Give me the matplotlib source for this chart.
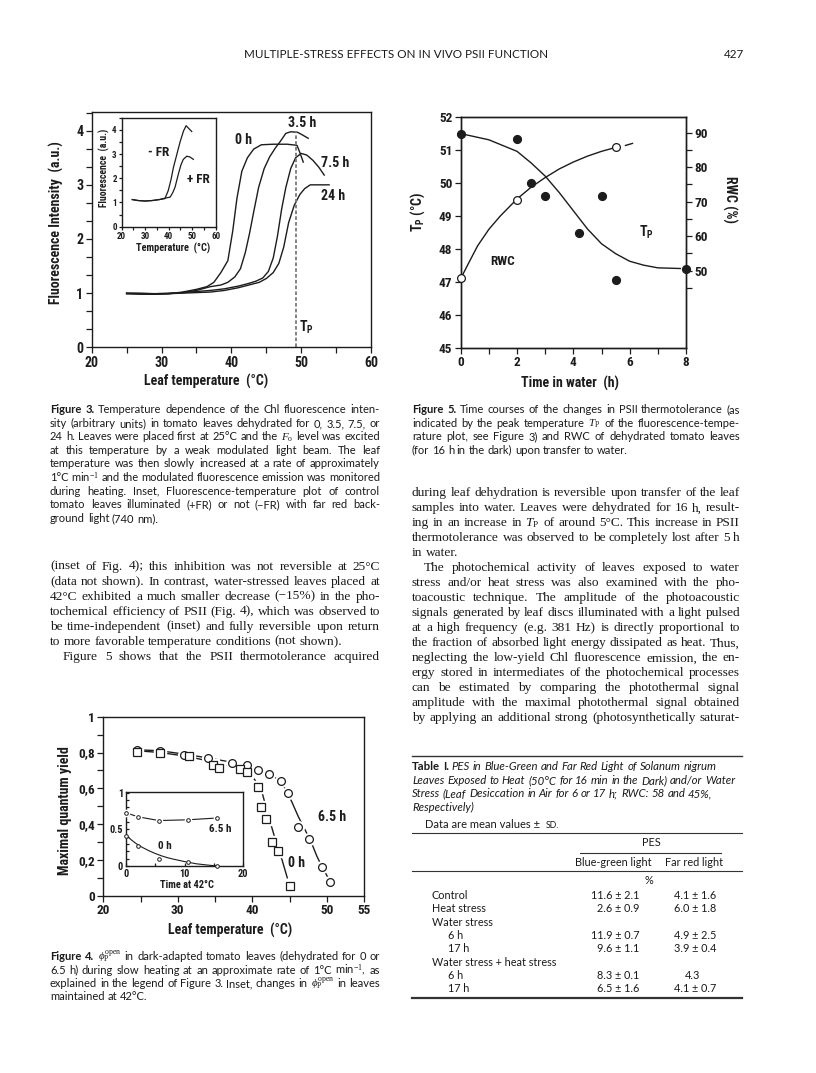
import matplotlib
matplotlib.use('Agg')
import matplotlib.pyplot as plt
from matplotlib import font_manager
from matplotlib.lines import Line2D
from matplotlib.ticker import MultipleLocator, FixedLocator, FuncFormatter

W, H = 816, 1073
INK = '#1c1c1c'
TXT = '#1a1a1a'

# ---------------- Figure 3: fluorescence vs leaf temperature ----------------
h0_x = [25, 27, 29, 31, 33, 35, 36.5, 37.5, 38.5, 39.5, 40.2, 40.8, 41.5, 42.3, 43.2, 44.3, 46, 48, 49.4, 49.8, 50.3]
h0_y = [1.0, 0.99, 0.98, 0.99, 1.02, 1.07, 1.12, 1.2, 1.38, 1.6, 2.15, 2.75, 3.25, 3.5, 3.66, 3.74, 3.75, 3.75, 3.73, 3.6, 3.42]
h35_x = [25, 27, 29, 31, 33, 35, 37, 38.5, 39.5, 40.5, 41.3, 42, 42.6, 43.2, 43.9, 44.7, 45.5, 46.3, 47, 47.8, 48.5, 49.5, 50.2, 51]
h35_y = [0.99, 0.98, 0.98, 0.99, 1.01, 1.05, 1.12, 1.15, 1.2, 1.3, 1.45, 1.75, 2.1, 2.5, 2.95, 3.3, 3.52, 3.68, 3.8, 3.95, 3.98, 3.97, 3.92, 3.86]
h75_x = [25, 27, 29, 31, 33, 35, 37, 39, 41, 42.5, 43.5, 44.5, 45.3, 46, 46.6, 47.2, 47.8, 48.5, 49.2, 50, 50.8, 51.7, 52.5, 53.3]
h75_y = [1.0, 1.0, 0.99, 1.0, 1.01, 1.03, 1.05, 1.08, 1.13, 1.18, 1.22, 1.28, 1.4, 1.65, 2.05, 2.55, 2.95, 3.3, 3.5, 3.58, 3.55, 3.45, 3.33, 3.18]
h24_x = [25, 27, 29, 31, 33, 35, 37, 39, 41, 42.5, 44, 45, 46, 46.8, 47.5, 48.2, 49, 49.8, 50.5, 51.3, 52, 53, 54]
h24_y = [0.99, 0.99, 0.99, 0.99, 1.0, 1.01, 1.02, 1.05, 1.1, 1.15, 1.2, 1.27, 1.38, 1.55, 1.85, 2.3, 2.62, 2.82, 2.93, 3.0, 3.0, 3.0, 3.0]
tp_line = 49.3

# inset: -FR / +FR
mfr_x = [24.5, 27, 30, 33, 36, 38.4, 39.8, 41, 42, 43.5, 44.9, 46.3, 47.4, 48.6, 49.8]
mfr_y = [1.12, 1.08, 1.06, 1.08, 1.12, 1.16, 1.49, 1.95, 2.44, 3.0, 3.52, 3.95, 4.17, 4.05, 3.93]
pfr_x = [24.5, 27, 30, 33, 36, 38.5, 40.6, 41.7, 42.7, 44.1, 45.2, 46.2, 47.7, 49, 50.5]
pfr_y = [1.12, 1.08, 1.06, 1.08, 1.12, 1.18, 1.22, 1.4, 1.63, 2.17, 2.55, 2.78, 2.91, 2.88, 2.78]

# ---------------- Figure 4: maximal quantum yield ----------------
c65_x = [24.5, 27.6, 30.9, 34.1, 37.3, 39.3, 40.8, 42.2, 43.9, 44.8, 46.2, 47.6, 49.4, 50.5]
c65_y = [0.814, 0.81, 0.786, 0.77, 0.744, 0.73, 0.702, 0.682, 0.64, 0.572, 0.382, 0.315, 0.158, 0.078]
s0_x = [24.5, 27.6, 31.5, 34.7, 35.5, 38.3, 39.3, 40.8, 41.2, 41.8, 42.7, 43.4, 45.0]
s0_y = [0.805, 0.797, 0.778, 0.73, 0.714, 0.708, 0.69, 0.607, 0.497, 0.427, 0.298, 0.252, 0.055]
fit65_x = [24.5, 27.6, 31, 34, 37.3, 39.3, 40.8, 42.2, 43.9, 45.3, 46.2, 47.1, 48, 48.7, 49.4, 50.1, 50.5]
fit65_y = [0.815, 0.81, 0.79, 0.77, 0.745, 0.73, 0.705, 0.68, 0.64, 0.525, 0.44, 0.367, 0.29, 0.218, 0.16, 0.106, 0.078]
fit0_x = [24.5, 27.6, 31, 34.5, 37.5, 39.3, 40.3, 41.3, 42, 42.7, 43.4, 44, 44.7]
fit0_y = [0.81, 0.8, 0.78, 0.75, 0.72, 0.69, 0.65, 0.58, 0.47, 0.37, 0.27, 0.2, 0.1]

# inset: time at 42 C
in_t = [0, 2.1, 5.6, 10.5, 15.6]
in65 = [0.725, 0.67, 0.62, 0.63, 0.655]
in0 = [0.41, 0.27, 0.095, 0.06, 0.0]
in0fit_x = [0, 1, 2, 3, 4, 5, 6, 7, 8, 10, 12, 14, 15.6]
in0fit_y = [0.42, 0.35, 0.29, 0.245, 0.205, 0.17, 0.14, 0.115, 0.095, 0.06, 0.03, 0.012, 0.0]

# ---------------- Figure 5: Tp and RWC vs time in water ----------------
t_tp = [0, 2, 2.5, 3, 4.2, 5, 5.5, 8]
tp = [51.48, 51.31, 50.0, 49.6, 48.47, 49.6, 47.04, 47.4]
tpfit_x = [0.2, 1, 2, 2.5, 3, 3.5, 4, 4.5, 5, 5.5, 6, 6.5, 7, 7.8]
tpfit_y = [51.45, 51.3, 50.95, 50.6, 50.2, 49.7, 49.15, 48.6, 48.15, 47.85, 47.62, 47.5, 47.42, 47.4]
t_rwc = [0, 2, 5.5]
rwc = [47.8, 70.5, 85.8]
rwcfit_x = [0.05, 0.3, 0.6, 1.0, 1.4, 2.0, 2.5, 3.0, 3.5, 4.0, 4.5, 5.0, 5.4]
rwcfit_y = [48.5, 52.5, 57.2, 62.0, 65.8, 70.8, 74.2, 77.0, 79.5, 81.5, 83.2, 84.6, 85.5]
rwcdash_x = [5.85, 6.1]
rwcdash_y = [86.3, 86.9]

# ---------------- Table I ----------------
tab_rows = ["Control", "Heat stress", "Water stress", "6 h", "17 h",
            "Water stress + heat stress", "6 h", "17 h"]
tab_indent = [0, 0, 0, 1, 1, 0, 1, 1]
bg_mean = [11.6, 2.6, None, 11.9, 9.6, None, 8.3, 6.5]
bg_sd = [2.1, 0.9, None, 0.7, 1.1, None, 0.1, 1.6]
fr_mean = [4.1, 6.0, None, 4.9, 3.9, None, 4.3, 4.1]
fr_sd = [1.6, 1.8, None, 2.5, 0.4, None, None, 0.7]

# ---------------- fonts ----------------
names = {f.name for f in font_manager.fontManager.ttflist}
NARROW = next((n for n in ['Liberation Sans Narrow', 'Roboto Condensed', 'DejaVu Sans Condensed']
               if n in names), 'Liberation Sans')
NSCALE = 1.0 if NARROW != 'Liberation Sans' else 0.85
CAP = 'Lato' if 'Lato' in names else 'DejaVu Sans'
SERIF = 'Liberation Serif'

plt.rcParams['font.family'] = [NARROW, 'DejaVu Sans']
plt.rcParams['font.weight'] = 'bold'
plt.rcParams['mathtext.fontset'] = 'custom'
plt.rcParams['mathtext.rm'] = SERIF + ':normal'
plt.rcParams['mathtext.it'] = SERIF + ':italic:normal'
plt.rcParams['mathtext.bf'] = NARROW + ':bold'

fig = plt.figure(figsize=(W / 100, H / 100), dpi=100)
fig.patch.set_facecolor('white')
renderer = fig.canvas.get_renderer()


def fx(x):
    return x / W


def fy(y):
    return 1 - y / H


def ax_px(l, t, r, b):
    return fig.add_axes([l / W, 1 - b / H, (r - l) / W, (b - t) / H])


def style(ax, size, direction='out', length=4, pad=2):
    for s in ax.spines.values():
        s.set_linewidth(1.0)
        s.set_color(INK)
    ax.tick_params(which='both', direction=direction, length=length, width=0.9,
                   color=INK, labelsize=size * NSCALE, pad=pad, labelcolor=INK)
    ax.set_facecolor('none')


def ftext(x, y, s, size, **kw):
    kw.setdefault('ha', 'center')
    kw.setdefault('va', 'center')
    return fig.text(fx(x), fy(y), s, fontsize=size * NSCALE, color=INK, **kw)


def write_lines(lines, ys, x0, x1, family, size, style='normal', justify=True,
                ragged=(), indent=None):
    indent = indent or {}
    for i, (line, y) in enumerate(zip(lines, ys)):
        start = x0 + indent.get(i, 0)
        arts = []
        for w in line.split():
            weight, st = 'normal', style
            if w.startswith('#'):
                w, weight, st = w[1:], 'bold', 'normal'
            arts.append(fig.text(0, fy(y + 3), w, family=[family, 'DejaVu Sans'], fontsize=size,
                                 style=st, weight=weight, va='baseline', ha='left', color=TXT))
        space = size * 100 / 72 * 0.25
        widths = [a.get_window_extent(renderer).width for a in arts]
        avail = x1 - start
        natural = sum(widths) + space * (len(arts) - 1)
        if natural > avail:
            k = avail / natural
            for a in arts:
                a.set_fontsize(size * k)
            widths = [a.get_window_extent(renderer).width for a in arts]
            space *= k
        if justify and i not in ragged and len(arts) > 1:
            gap = (avail - sum(widths)) / (len(arts) - 1)
        else:
            gap = space
        x = start
        for a, w in zip(arts, widths):
            a.set_x(fx(x))
            x += w + gap


# ================= Figure 3 =================
ax3 = ax_px(91.7, 112, 371, 347.3)
style(ax3, 10)
for xs, ys in [(h0_x, h0_y), (h35_x, h35_y), (h75_x, h75_y), (h24_x, h24_y)]:
    ax3.plot(xs, ys, color=INK, lw=1.0)
ax3.vlines(tp_line, 0, 4.0, colors='#7a7a7a', linestyles=(0, (2, 1.2)), lw=1.3)
ax3.set_xlim(20, 60)
ax3.set_ylim(0, 4.345)
ax3.xaxis.set_major_locator(MultipleLocator(10))
ax3.xaxis.set_minor_locator(MultipleLocator(5))
ax3.yaxis.set_major_locator(MultipleLocator(1))
ax3.yaxis.set_minor_locator(MultipleLocator(1 / 3))
ax3.tick_params(which='minor', length=4)
for s, x, y in [('0 h', 41.7, 3.82), ('3.5 h', 50.2, 4.15), ('7.5 h', 54.8, 3.41), ('24 h', 54.5, 2.79)]:
    ax3.text(x, y, s, fontsize=10 * NSCALE, ha='center', va='center', color=INK)
ax3.text(50.8, 0.37, r'$\mathbf{T_P}$', fontsize=10 * NSCALE, ha='center', va='center', color=INK)
ftext(206, 381.7, 'Leaf temperature  (°C)', 10)
ftext(56.5, 222.5, 'Fluorescence Intensity  (a.u.)', 10, rotation=90)

ax3i = ax_px(121.7, 117.7, 215.7, 226.7)
style(ax3i, 6.5, length=2.5, pad=1)
ax3i.set_facecolor('white')
ax3i.plot(mfr_x, mfr_y, color=INK, lw=0.9)
ax3i.plot(pfr_x, pfr_y, color=INK, lw=0.9)
ax3i.set_xlim(20, 60)
ax3i.set_ylim(0, 4.5)
ax3i.xaxis.set_major_locator(MultipleLocator(10))
ax3i.xaxis.set_minor_locator(MultipleLocator(5))
ax3i.yaxis.set_major_locator(MultipleLocator(1))
ax3i.yaxis.set_minor_locator(MultipleLocator(0.5))
ax3i.text(35.6, 3.06, '- FR', fontsize=9.5 * NSCALE, ha='center', va='center', color=INK)
ax3i.text(52.6, 1.96, '+ FR', fontsize=9.5 * NSCALE, ha='center', va='center', color=INK)
ftext(173.3, 248.5, 'Temperature  (°C)', 7.5)
ftext(104, 168, 'Fluorescence  (a.u.)', 7, rotation=90)

# ================= Figure 5 =================
ax5 = ax_px(460.7, 116.7, 686, 347.7)
style(ax5, 9.5)
ax5.plot(tpfit_x, tpfit_y, color=INK, lw=1.0)
ax5.plot(t_tp, tp, 'o', ms=5.6, color=INK, clip_on=False, zorder=5)
ax5.set_xlim(0, 8)
ax5.set_ylim(45, 52)
ax5.xaxis.set_major_locator(MultipleLocator(2))
ax5.xaxis.set_minor_locator(MultipleLocator(1))
ax5.yaxis.set_major_locator(MultipleLocator(1))
ax5.tick_params(right=False, top=False)
ax5.text(1.5, 47.6, 'RWC', fontsize=9.5 * NSCALE, ha='center', va='center', color=INK)
ax5.text(6.6, 48.5, r'$\mathbf{T_P}$', fontsize=10 * NSCALE, ha='center', va='center', color=INK)
tw = ax5.twinx()
style(tw, 9.5)
tw.plot(rwcfit_x, rwcfit_y, color=INK, lw=1.0)
tw.plot(rwcdash_x, rwcdash_y, color=INK, lw=1.0)
tw.plot(t_rwc, rwc, 'o', ms=5.6, mfc='white', mec=INK, mew=0.9, clip_on=False, zorder=5)
tw.set_ylim(27.68, 94.64)
tw.yaxis.set_major_locator(FixedLocator([50, 60, 70, 80, 90]))
tw.yaxis.set_minor_locator(FixedLocator([45, 55, 65, 75, 85]))
tw.tick_params(which='both', length=4)
ftext(570, 383.3, 'Time in water  (h)', 10)
ftext(418, 212, r'$\mathbf{T_P}$ (°C)', 10, rotation=90)
ftext(730, 199, 'RWC (%)', 10, rotation=270)

# ================= Figure 4 =================
ax4 = ax_px(103.3, 716.7, 364, 895.7)
style(ax4, 9.5)
ax4.plot(fit65_x, fit65_y, color=INK, lw=1.0)
ax4.plot(fit0_x, fit0_y, color=INK, lw=1.0)
ax4.plot(c65_x, c65_y, 'o', ms=8.5, color='white', zorder=4)
ax4.plot(s0_x, s0_y, 's', ms=8, color='white', zorder=4)
ax4.plot(c65_x, c65_y, 'o', ms=5.6, mfc='white', mec=INK, mew=0.9, zorder=5)
ax4.plot(s0_x, s0_y, 's', ms=5.2, mfc='white', mec=INK, mew=0.9, zorder=5)
ax4.set_xlim(20, 55)
ax4.set_ylim(0, 1)
ax4.xaxis.set_major_locator(FixedLocator([20, 30, 40, 50, 55]))
ax4.xaxis.set_minor_locator(FixedLocator([25, 35, 45]))
ax4.yaxis.set_major_locator(MultipleLocator(0.2))
ax4.yaxis.set_minor_locator(MultipleLocator(0.1))
ax4.yaxis.set_major_formatter(FuncFormatter(lambda v, p: ('%g' % round(v, 1)).replace('.', ',')))
ax4.text(50.7, 0.438, '6.5 h', fontsize=10 * NSCALE, ha='center', va='center', color=INK)
ax4.text(46.0, 0.18, '0 h', fontsize=10 * NSCALE, ha='center', va='center', color=INK)
ftext(230, 930, 'Leaf temperature  (°C)', 10)
ftext(65, 811, 'Maximal quantum yield', 10, rotation=90)

ax4i = ax_px(126, 792.3, 243.3, 866)
style(ax4i, 7.5, direction='in', length=2.5)
ax4i.set_facecolor('white')
ax4i.plot(in_t, in65, color=INK, lw=0.8)
ax4i.plot(in0fit_x, in0fit_y, color=INK, lw=0.8)
ax4i.plot(in_t, in65, 'o', ms=4.5, color='white', zorder=4, clip_on=False)
ax4i.plot(in_t, in65, 'o', ms=2.6, mfc='white', mec=INK, mew=0.7, zorder=5, clip_on=False)
ax4i.plot(in_t, in0, 'o', ms=2.6, mfc='white', mec=INK, mew=0.7, zorder=5, clip_on=False)
ax4i.set_xlim(0, 20)
ax4i.set_ylim(0, 1.005)
ax4i.xaxis.set_major_locator(MultipleLocator(10))
ax4i.xaxis.set_minor_locator(MultipleLocator(5))
ax4i.yaxis.set_major_locator(MultipleLocator(0.5))
ax4i.yaxis.set_minor_locator(MultipleLocator(0.1))
ax4i.yaxis.set_major_formatter(FuncFormatter(lambda v, p: '%g' % round(v, 1)))
ax4i.text(16.1, 0.505, '6.5 h', fontsize=8 * NSCALE, ha='center', va='center', color=INK)
ax4i.text(6.7, 0.275, '0 h', fontsize=8 * NSCALE, ha='center', va='center', color=INK)
ftext(186.7, 885, 'Time at 42°C', 7.5)

# ================= page text =================
fig.text(fx(548), fy(58.5), 'MULTIPLE-STRESS EFFECTS ON IN VIVO PSII FUNCTION', family=CAP,
         fontsize=8.4, weight='normal', ha='right', va='baseline', color=TXT)
fig.text(fx(744), fy(58.5), '427', family=CAP, fontsize=8.4, weight='normal',
         ha='right', va='baseline', color=TXT)

cap3 = ["#Figure #3.  Temperature dependence of the Chl fluorescence inten-",
        "sity (arbitrary units) in tomato leaves dehydrated for 0, 3.5, 7.5, or",
        r"24 h. Leaves were placed first at 25°C and the $F_\mathrm{o}$ level was excited",
        "at this temperature by a weak modulated light beam. The leaf",
        "temperature was then slowly increased at a rate of approximately",
        r"1°C min$^{-1}$ and the modulated fluorescence emission was monitored",
        "during heating. Inset, Fluorescence-temperature plot of control",
        "tomato leaves illuminated (+FR) or not (\u2212FR) with far red back-",
        "ground light (740 nm)."]
write_lines(cap3, [410, 424, 437.3, 450.7, 464.3, 478.3, 491.7, 505, 519], 50, 380, CAP, 8,
            ragged=(8,))

body_l = ["(inset of Fig. 4); this inhibition was not reversible at 25°C",
          "(data not shown). In contrast, water-stressed leaves placed at",
          "42°C exhibited a much smaller decrease (\u221215%) in the pho-",
          "tochemical efficiency of PSII (Fig. 4), which was observed to",
          "be time-independent (inset) and fully reversible upon return",
          "to more favorable temperature conditions (not shown).",
          "Figure 5 shows that the PSII thermotolerance acquired"]
write_lines(body_l, [566.7, 581.7, 596.7, 611.7, 626.7, 641.7, 657.3], 50, 380, SERIF, 9.6,
            ragged=(5,), indent={6: 13})

cap4 = [r"#Figure #4.  $\phi_\mathrm{P}^\mathrm{open}$ in dark-adapted tomato leaves (dehydrated for 0 or",
        r"6.5 h) during slow heating at an approximate rate of 1°C min$^{-1}$, as",
        r"explained in the legend of Figure 3. Inset, changes in $\phi_\mathrm{P}^\mathrm{open}$ in leaves",
        "maintained at 42°C."]
write_lines(cap4, [956.7, 970.7, 984, 996.7], 50, 380, CAP, 8, ragged=(3,))

cap5 = ["#Figure #5.  Time courses of the changes in PSII thermotolerance (as",
        r"indicated by the peak temperature $T_\mathrm{P}$ of the fluorescence-tempe-",
        "rature plot, see Figure 3) and RWC of dehydrated tomato leaves",
        "(for 16 h in the dark) upon transfer to water."]
write_lines(cap5, [410, 424, 437.3, 450.7], 412, 740, CAP, 8, ragged=(3,))

body_r = ["during leaf dehydration is reversible upon transfer of the leaf",
          "samples into water. Leaves were dehydrated for 16 h, result-",
          r"ing in an increase in $T_\mathrm{P}$ of around 5°C. This increase in PSII",
          "thermotolerance was observed to be completely lost after 5 h",
          "in water.",
          "The photochemical activity of leaves exposed to water",
          "stress and/or heat stress was also examined with the pho-",
          "toacoustic technique. The amplitude of the photoacoustic",
          "signals generated by leaf discs illuminated with a light pulsed",
          "at a high frequency (e.g. 381 Hz) is directly proportional to",
          "the fraction of absorbed light energy dissipated as heat. Thus,",
          "neglecting the low-yield Chl fluorescence emission, the en-",
          "ergy stored in intermediates of the photochemical processes",
          "can be estimated by comparing the photothermal signal",
          "amplitude with the maximal photothermal signal obtained",
          "by applying an additional strong (photosynthetically saturat-"]
write_lines(body_r, [493.3 + 15 * i for i in range(len(body_r))], 412, 740, SERIF, 9.6,
            ragged=(4,), indent={5: 12})

# ---- Table I ----
def hrule(y, x0=411.7, x1=741.7, lw=0.8):
    fig.add_artist(Line2D([fx(x0), fx(x1)], [fy(y), fy(y)], lw=lw, color='#333333'))


hrule(756, lw=1.0)
ttl = ["#Table #I.  PES in Blue-Green and Far Red Light of Solanum nigrum",
       "Leaves Exposed to Heat (50°C for 16 min in the Dark) and/or Water",
       "Stress (Leaf Desiccation in Air for 6 or 17 h; RWC: 58 and 45%,",
       "Respectively)"]
write_lines(ttl, [767.3, 781, 794.3, 807.7], 412, 740, CAP, 8.2, style='italic', justify=False)
fig.text(fx(425), fy(828), 'Data are mean values ± ', family=CAP, fontsize=8, weight='normal',
         va='baseline', ha='left', color=TXT)
fig.text(fx(546), fy(828), 'SD.', family=CAP, fontsize=6.3, weight='normal',
         va='baseline', ha='left', color=TXT)
hrule(832.7)
tkw = dict(family=CAP, fontsize=7.8, weight='normal', va='baseline', color=TXT)
fig.text(fx(651.7), fy(845.5), 'PES', ha='center', **tkw)
hrule(853.3, 580, 720.7)
fig.text(fx(613.3), fy(866.3), 'Blue-green light', ha='center', **tkw)
fig.text(fx(694), fy(866.3), 'Far red light', ha='center', **tkw)
hrule(870.7)
fig.text(fx(649.3), fy(883.5), '%', ha='center', **tkw)
row_y = [895.7, 909.3, 922.7, 936, 949.3, 962.7, 976, 989.3]
for lab, ind, bm, bs, fm_, fs, y in zip(tab_rows, tab_indent, bg_mean, bg_sd, fr_mean, fr_sd, row_y):
    fig.text(fx(431.7 + 16.6 * ind), fy(y + 3), lab, ha='left', **tkw)
    if bm is not None:
        fig.text(fx(639.3), fy(y + 3), '%.1f ± %.1f' % (bm, bs), ha='right', **tkw)
    if fm_ is not None:
        if fs is None:
            fig.text(fx(693), fy(y + 3), '%.1f' % fm_, ha='center', **tkw)
        else:
            fig.text(fx(716.7), fy(y + 3), '%.1f ± %.1f' % (fm_, fs), ha='right', **tkw)
hrule(998.3, lw=1.6)

fig.savefig('out.png', dpi=100, facecolor='white')
